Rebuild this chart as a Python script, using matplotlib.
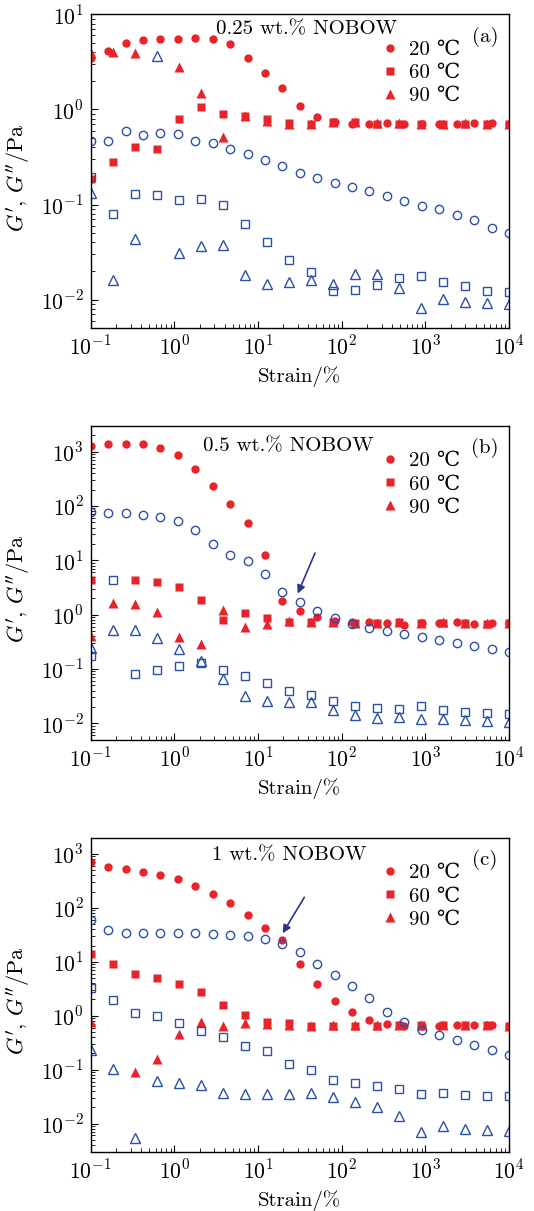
import numpy as np
import matplotlib
matplotlib.use("Agg")
import matplotlib.pyplot as plt
from matplotlib.ticker import FuncFormatter, LogLocator

plt.rcParams['mathtext.fontset'] = 'cm'
plt.rcParams['font.family'] = ['cmr10', 'DejaVu Serif', 'Noto Sans CJK SC']
plt.rcParams['axes.unicode_minus'] = False

# strain grids (%)
strain25 = [0.1, 0.162, 0.261, 0.422, 0.681, 1.10, 1.78, 2.87, 4.64, 7.50, 12.1, 19.6,
            31.6, 51.1, 82.5, 133, 215, 348, 562, 909, 1468, 2371, 3831, 6190, 10000]
strain20 = [0.1, 0.183, 0.336, 0.616, 1.13, 2.07, 3.79, 6.95, 12.7, 23.4, 42.8, 78.5,
            144, 264, 483, 886, 1624, 2976, 5456, 10000]

nan = float('nan')

# (a) 0.25 wt.%
a_g1_20 = [3.5, 4.15, 5.0, 5.4, 5.5, 5.55, 5.6, 5.5, 4.87, 3.44, 2.43, 1.66, 1.09, 0.83,
           0.73, 0.71, 0.70, 0.72, 0.695, 0.70, 0.70, 0.695, 0.72, 0.72, 0.70]
a_g2_20 = [0.468, 0.468, 0.60, 0.537, 0.568, 0.555, 0.464, 0.442, 0.385, 0.336, 0.293, 0.253,
           0.217, 0.191, 0.17, 0.152, 0.138, 0.124, 0.110, 0.096, 0.089, 0.0785, 0.0695, 0.0568, 0.0499]
a_g1_60 = [0.185, 0.277, 0.40, 0.382, 0.785, 1.07, 0.90, 0.86, 0.80, 0.72, 0.71, 0.74,
           0.735, 0.71, 0.71, 0.71, 0.70, 0.70, 0.70, 0.70]
a_g2_60 = [0.195, 0.079, 0.13, 0.126, 0.111, 0.113, 0.0984, 0.062, 0.0408, 0.0264, 0.0196, 0.0122,
           0.0125, 0.0144, 0.0169, 0.0179, 0.0152, 0.0139, 0.0122, 0.0119]
a_g1_90 = [3.9, 4.0, 3.9, nan, 2.81, 1.49, 0.515, 0.85, 0.76, 0.71, 0.71, 0.735,
           0.74, 0.72, 0.72, 0.71, 0.71, 0.72, 0.71, 0.70]
a_g2_90 = [0.133, 0.016, 0.0435, 3.64, 0.0313, 0.0367, 0.0379, 0.0183, 0.0146, 0.0152, 0.0162, 0.0146,
           0.0185, 0.0185, 0.0134, 0.0082, 0.0102, 0.0095, 0.0092, 0.0091]

# (b) 0.5 wt.%
b_g1_20 = [1254, 1365, 1404, 1365, 1168, 880, 487, 237, 107, 48, 12.7, 1.76, 1.15, 0.91,
           0.76, 0.72, 0.72, 0.69, 0.655, 0.69, 0.70, 0.72, 0.68, 0.70, 0.70]
b_g2_20 = [78.7, 74.3, 73.3, 69.3, 62.8, 53, 36.2, 20, 12.7, 9.86, 5.69, 2.58, 1.69, 1.17,
           0.86, 0.68, 0.569, 0.508, 0.447, 0.394, 0.347, 0.305, 0.269, 0.233, 0.206]
b_g1_60 = [4.28, nan, 4.35, 4.05, 3.28, 1.89, 0.80, 1.06, 0.87, 0.74, 0.72, 0.72,
           0.70, 0.70, 0.72, 0.70, 0.70, 0.70, 0.68, 0.70]
b_g2_60 = [0.171, 4.4, 0.082, 0.096, 0.112, 0.129, 0.097, 0.073, 0.055, 0.040, 0.033, 0.026,
           0.0211, 0.0194, 0.0184, 0.0211, 0.0173, 0.0164, 0.0153, 0.0147]
b_g1_90 = [0.41, 1.64, 1.59, 1.10, 0.388, 0.288, 1.2, 0.593, 0.673, 0.754, 0.72, 0.72,
           0.70, 0.70, 0.72, 0.70, 0.72, 0.70, 0.70, 0.70]
b_g2_90 = [0.244, 0.515, 0.515, 0.367, 0.233, 0.142, 0.0655, 0.0323, 0.0254, 0.0244, 0.0244, 0.0179,
           0.0144, 0.0124, 0.0129, 0.012, 0.0122, 0.0114, 0.011, 0.0106]

# (c) 1 wt.%
c_g1_20 = [722, 576, 521, 465, 415, 340, 256, 181, 122, 74, 42.4, 25.4, 9.1, 3.82,
           1.87, 1.15, 0.83, 0.71, 0.643, 0.643, 0.65, 0.66, 0.66, 0.66, 0.65]
c_g2_20 = [58.9, 38.4, 34.2, 33.7, 33.7, 34.2, 33.7, 33.3, 31.4, 30.1, 26.9, 21.7, 15.2, 9.23,
           5.61, 3.56, 2.10, 1.19, 0.76, 0.535, 0.431, 0.353, 0.281, 0.23, 0.184]
c_g1_60 = [14, 8.97, 5.94, 5.07, 3.82, 2.71, 1.6, 1.01, 0.77, 0.72, 0.643, 0.643,
           0.643, 0.643, 0.66, 0.66, 0.66, 0.66, 0.66, 0.65]
c_g2_60 = [3.22, 1.95, 1.12, 0.99, 0.741, 0.527, 0.402, 0.273, 0.218, 0.128, 0.0966, 0.0648,
           0.0562, 0.0501, 0.0435, 0.0357, 0.0362, 0.0341, 0.0327, 0.0327]
c_g1_90 = [0.77, nan, 0.091, 0.159, 0.45, 0.76, 0.643, 0.72, 0.71, 0.66, 0.643, 0.66,
           0.66, 0.66, 0.66, 0.66, 0.66, 0.66, 0.66, 0.65]
c_g2_90 = [0.231, 0.101, 0.00528, 0.0612, 0.0554, 0.0509, 0.0372, 0.0351, 0.0351, 0.0351, 0.0361, 0.0305,
           0.0253, 0.0201, 0.0135, 0.00703, 0.00908, 0.00776, 0.00743, 0.00733]

panels = [
    ('0.25 wt.% NOBOW', '(a)', (0.005, 10), a_g1_20, a_g2_20, a_g1_60, a_g2_60, a_g1_90, a_g2_90),
    ('0.5 wt.% NOBOW', '(b)', (0.005, 3000), b_g1_20, b_g2_20, b_g1_60, b_g2_60, b_g1_90, b_g2_90),
    ('1 wt.% NOBOW', '(c)', (0.003, 2000), c_g1_20, c_g2_20, c_g1_60, c_g2_60, c_g1_90, c_g2_90),
]
title_pos = [(0.517, 0.953), (0.473, 0.936), (0.474, 0.943)]
# arrows: (tail, head) in data coords
arrows = [None, ((48, 13.6), (29.8, 2.44)), ((35.8, 157), (19.7, 33.8))]

red = '#e8232a'
blue = '#2b50a8'

W, H = 534, 1211
fig = plt.figure(figsize=(W / 100, H / 100), dpi=100)
tops = [14.3, 425.7, 837.7]
ax_h = 314
left, right = 90.7, 509

for i, (title, tag, ylim, g1_20, g2_20, g1_60, g2_60, g1_90, g2_90) in enumerate(panels):
    ax = fig.add_axes([left / W, 1 - (tops[i] + ax_h) / H, (right - left) / W, ax_h / H])
    ax.set_xscale('log')
    ax.set_yscale('log')

    ms = 6
    ax.plot(strain25, g1_20, 'o', color=red, ms=ms, mec='none', label='20 ℃')
    ax.plot(strain20, g1_60, 's', color=red, ms=ms - 0.5, mec='none', label='60 ℃')
    ax.plot(strain20, g1_90, '^', color=red, ms=ms + 0.5, mec='none', label='90 ℃')
    ax.plot(strain25, g2_20, 'o', mfc='none', mec=blue, mew=1.0, ms=ms)
    ax.plot(strain20, g2_60, 's', mfc='none', mec=blue, mew=1.0, ms=ms - 0.5)
    ax.plot(strain20, g2_90, '^', mfc='none', mec=blue, mew=1.0, ms=ms + 0.5)

    ax.set_xlim(0.1, 10000)
    ax.set_ylim(*ylim)

    fmt = FuncFormatter(lambda v, p: r'$10^{%d}$' % int(round(np.log10(v))))
    ax.xaxis.set_major_locator(LogLocator(base=10, numticks=10))
    ax.yaxis.set_major_locator(LogLocator(base=10, numticks=10))
    ax.xaxis.set_major_formatter(fmt)
    ax.yaxis.set_major_formatter(fmt)
    ax.tick_params(which='both', direction='in', top=False, right=False, labelsize=15.5)
    ax.tick_params(which='major', length=5, width=0.8)
    ax.tick_params(which='minor', length=3, width=0.6)
    ax.tick_params(axis='x', pad=5)
    ax.tick_params(axis='y', pad=5)
    for s in ax.spines.values():
        s.set_linewidth(1.0)

    ax.set_xlabel('Strain/%', fontsize=15, va='center')
    ax.xaxis.set_label_coords(0.5, -0.155)
    ax.set_ylabel(r"$G'$, $G''$/Pa", fontsize=16, va='center')
    ax.yaxis.set_label_coords(-0.174, 0.48)

    ax.text(title_pos[i][0], title_pos[i][1], title, transform=ax.transAxes,
            ha='center', va='center', fontsize=15)
    ax.text(0.943, 0.928, tag, transform=ax.transAxes, ha='center', va='center', fontsize=15)

    ax.legend(loc='upper left', bbox_to_anchor=(0.695, 0.917), frameon=False, fontsize=15,
              handlelength=0.8, handletextpad=0.5, labelspacing=0.22, borderaxespad=0,
              borderpad=0)

    if arrows[i] is not None:
        (tx, ty), (hx, hy) = arrows[i]
        ax.annotate('', xy=(hx, hy), xytext=(tx, ty),
                    arrowprops=dict(arrowstyle='-|>', color='#2a3590', lw=1.2,
                                    mutation_scale=12, shrinkA=0, shrinkB=0))

fig.savefig('out.png', dpi=100)
